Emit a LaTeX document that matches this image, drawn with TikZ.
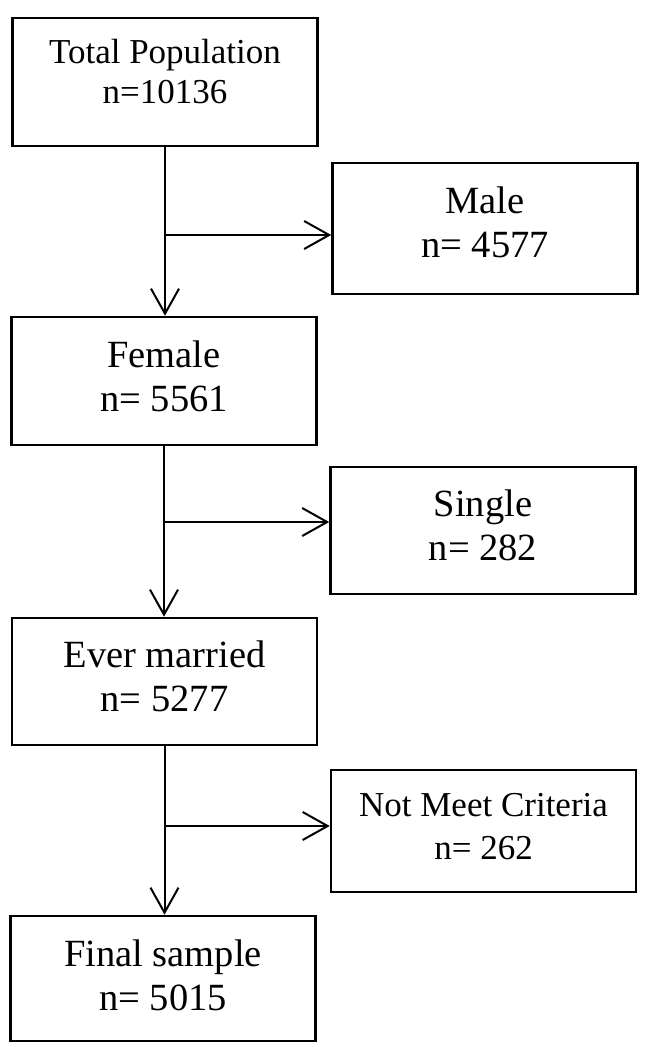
\documentclass[tikz,border=0pt]{standalone}
\usepackage{fontspec}
\setmainfont{Liberation Serif}
\usetikzlibrary{arrows.meta,calc}
\tikzset{
  blk/.style={draw,line width=1.3pt,align=center,minimum width=152.5pt,inner sep=0pt,
    font=\fontsize{19.25}{22}\selectfont,text depth=5pt},
  stage/.style={blk},
  excl/.style={blk},
  smalltxt/.style={font=\fontsize{17.5}{20.3}\selectfont},
  ar/.style={-{Straight Barb[length=12.5pt,width=14pt,line width=1pt]},line width=1pt},
}

\begin{document}
\begin{tikzpicture}[x=0.5pt,y=-0.5pt]
  \useasboundingbox (0,0) rectangle (649,1047);
  % main path (left column)
  \node[stage,smalltxt,minimum height=64pt,text depth=10.5pt] (total) at (165,82) {Total Population\\n=10136};
  \node[stage,minimum height=64pt] (female) at (164,381) {Female\\n= 5561};
  \node[stage,minimum height=63.5pt] (married) at (164.5,681.5) {Ever married\\n= 5277};
  \node[stage,minimum height=62.5pt,text depth=3.5pt] (final) at (163,978.5) {Final sample\\n= 5015};
  % excluded (right column)
  \node[excl,minimum height=65.5pt,text depth=6.5pt] (male) at (485,228.5) {Male\\n= 4577};
  \node[excl,minimum height=63.5pt] (single) at (483,530.5) {Single\\n= 282};
  \node[excl,minimum height=61pt,font=\fontsize{17.5}{21.5}\selectfont] (nmc) at (483.5,831) {Not Meet Criteria\\n= 262};
  % branch points on the main line
  \coordinate (j1) at (165,235);
  \coordinate (j2) at (164,522);
  \coordinate (j3) at (164.5,826);
  % arrows down
  \draw[ar] (total.south) -- (total.south |- female.north);
  \draw[ar] (female.south) -- (female.south |- married.north);
  \draw[ar] (married.south) -- (married.south |- final.north);
  % arrows right
  \draw[ar] (j1) -- (j1 -| male.west);
  \draw[ar] (j2) -- (j2 -| single.west);
  \draw[ar] (j3) -- (j3 -| nmc.west);
\end{tikzpicture}
\end{document}
